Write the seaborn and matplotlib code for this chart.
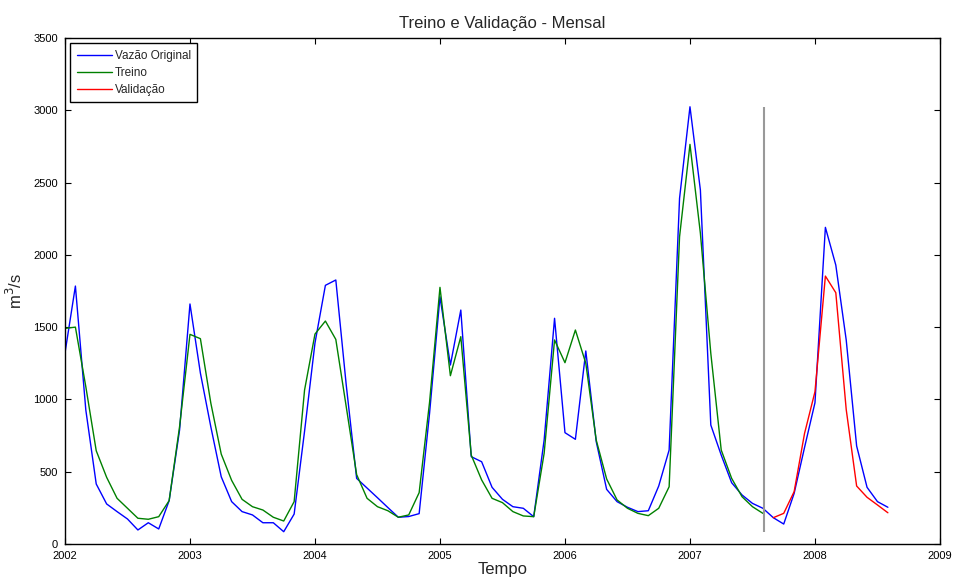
import numpy as np
import pandas as pd
import seaborn as sns
import matplotlib
matplotlib.use("Agg")
import matplotlib.pyplot as plt

# vazao mensal (jan/2002 .. ago/2008)
original = [1321, 1784, 927, 415, 277, 224, 173, 97, 147, 104, 300, 788,
            1660, 1182, 811, 465, 293, 224, 201, 147, 147, 85, 207, 780,
            1390, 1789, 1826, 1100, 454, 387, 320, 252, 185, 190, 210, 904,
            1710, 1238, 1618, 604, 569, 392, 309, 258, 247, 189, 719, 1561,
            770, 724, 1335, 708, 378, 293, 254, 224, 230, 401, 650, 2391,
            3024, 2448, 823, 615, 424, 339, 281, 247, 182, 138, 350, 668,
            977, 2190, 1929, 1411, 678, 392, 293, 254]

treino = [1491, 1500, 1088, 645, 461, 316, 247, 178, 171, 189, 300, 811,
          1450, 1420, 975, 622, 440, 309, 258, 235, 185, 159, 293, 1065,
          1452, 1542, 1415, 950, 480, 316, 258, 230, 185, 201, 355, 980,
          1775, 1164, 1434, 615, 443, 316, 286, 224, 194, 189, 627, 1411,
          1254, 1480, 1250, 719, 450, 305, 247, 212, 196, 247, 396, 2125,
          2764, 2149, 1319, 650, 454, 327, 258, 212]

validacao = [182, 212, 362, 765, 1053, 1853, 1738, 930, 401, 323, 270, 216]

ano_inicio = 2002
x_ticks = list(range(2002, 2010))
y_ticks = list(range(0, 3501, 500))

t_all = ano_inicio + np.arange(len(original)) / 12
df_orig = pd.DataFrame({"t": t_all, "v": original})
df_tr = pd.DataFrame({"t": t_all[:len(treino)], "v": treino})
df_val = pd.DataFrame({"t": t_all[len(treino):], "v": validacao})
corte = ano_inicio + (len(treino) - 1) / 12 + 0.01

sns.set_style("white")
plt.rcParams["font.family"] = ["Liberation Sans", "DejaVu Sans"]

fig = plt.figure(figsize=(9.57, 5.83), dpi=100)
ax = fig.add_axes([0.0679, 0.0669, 0.9143, 0.868])

sns.lineplot(data=df_orig, x="t", y="v", ax=ax, color="#0000ff", lw=1.0, label="Vazão Original")
sns.lineplot(data=df_tr, x="t", y="v", ax=ax, color="#008000", lw=1.0, label="Treino")
sns.lineplot(data=df_val, x="t", y="v", ax=ax, color="#ff0000", lw=1.0, label="Validação")
ax.vlines(corte, min(original), max(original), color="0.6", lw=1.5)

ax.set_xlim(2002, 2009)
ax.set_ylim(0, 3500)
ax.set_xticks(x_ticks)
ax.set_yticks(y_ticks)
ax.tick_params(direction="in", length=4, width=0.8, labelsize=8,
               top=True, right=True, bottom=True, left=True, pad=5, colors="black")
for s in ax.spines.values():
    s.set_visible(True)
    s.set_color("black")
    s.set_linewidth(1.0)

ax.set_title("Treino e Validação - Mensal", fontsize=12, pad=7)
ax.set_xlabel("Tempo", fontsize=12, labelpad=1)
ax.set_ylabel("m$^3$/s", fontsize=12, labelpad=6)

leg = ax.legend(loc="upper left", fontsize=8.5, handlelength=3.0, fancybox=False,
                framealpha=1, edgecolor="black", borderaxespad=0.45,
                labelspacing=0.42, handletextpad=0.2, borderpad=0.55)
leg.get_frame().set_linewidth(1.0)

fig.savefig("out.png", dpi=100)
